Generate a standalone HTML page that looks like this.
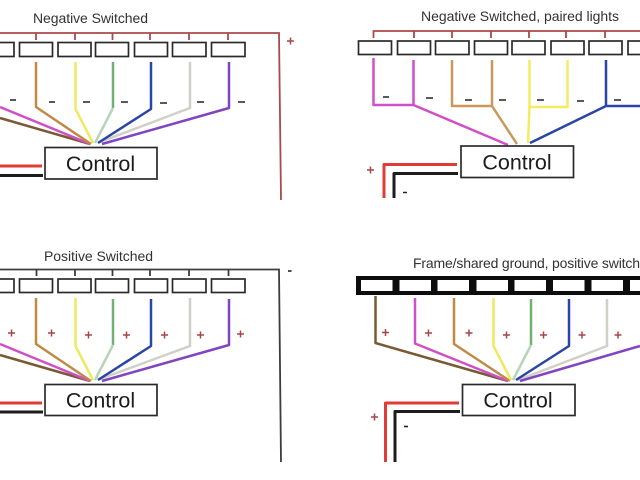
<!DOCTYPE html>
<html><head><meta charset="utf-8"><style>
html,body{margin:0;padding:0;background:#fff;width:640px;height:480px;overflow:hidden}
svg{display:block}
text{font-family:"Liberation Sans",sans-serif;fill:#333}
.w{fill:none;stroke-width:2.5;stroke-linejoin:round}
.b{fill:#fff;stroke:#2c2c2c;stroke-width:1.7}
.t{font-size:14px}
.c{font-size:21.5px;text-anchor:middle;fill:#1c1c1c}
.m{fill:none;stroke:#222;stroke-width:1.6}
.p{fill:none;stroke:#a8454a;stroke-width:1.5}
</style></head><body>
<svg width="640" height="480" viewBox="0 0 640 480" xmlns="http://www.w3.org/2000/svg">
<defs><filter id="s" x="0" y="0" width="100%" height="100%"><feGaussianBlur stdDeviation="0.35"/></filter></defs>
<rect width="640" height="480" fill="#fff"/>
<g filter="url(#s)">

<!-- Panel 1 -->
<text class="t" x="33" y="23" textLength="115">Negative Switched</text>
<path d="M0 33H279L281 200M36 33V40M75 33V40M112.500 33V40M150 33V40M189 33V40M228 33V40" fill="none" stroke="#a94a4e" stroke-width="1.8"/>
<path d="M287 41h7M290.500 37.500v7" class="p"/>
<g class="b">
<rect x="-20" y="42.500" width="34" height="14"/><rect x="19.500" y="42.500" width="33" height="14"/><rect x="58" y="42.500" width="33" height="14"/><rect x="95.500" y="42.500" width="33" height="14"/><rect x="134.500" y="42.500" width="33" height="14"/><rect x="172.500" y="42.500" width="33.500" height="14"/><rect x="211.500" y="42.500" width="33.500" height="14"/>
</g>
<g class="w">
<path d="M0 118L90 144" stroke="#7a5a34"/>
<path d="M0 107L90 144" stroke="#d050c8"/>
<path d="M36 62V107L91 144" stroke="#c08a45"/>
<path d="M75.500 62V109L93 143" stroke="#f0e860"/>
<path d="M113 62V108" stroke="#6fb070"/><path d="M113 108L95 143" stroke="#b5d5b8"/>
<path d="M190 62V108L100 142" stroke="#d0d0c8"/>
<path d="M151 62V109L98 143" stroke="#2a45a5"/>
<path d="M229 62V108L102 144" stroke="#8045c0"/>
<path d="M0 166H42" stroke="#e03a35" stroke-width="3"/>
<path d="M0 175.500H43" stroke="#1a1a1a" stroke-width="3"/>
</g>
<path d="M10 100h6M49 102h6M83 102h7M121 102h7M160 103h7M197 102h7M238 102h7" class="m"/>
<rect class="b" x="45" y="147.500" width="112" height="31.500"/>
<text class="c" x="100.500" y="171">Control</text>

<!-- Panel 2 -->
<text class="t" x="421" y="21" textLength="198">Negative Switched, paired lights</text>
<path d="M640 31H373.500V38M414 31V38M452 31V38M491 31V38M529 31V38M566 31V38M605 31V38" fill="none" stroke="#a94a4e" stroke-width="1.8"/>
<g class="b">
<rect x="358.500" y="41" width="33" height="13.500"/><rect x="397.500" y="41" width="33" height="13.500"/><rect x="435.500" y="41" width="33.500" height="13.500"/><rect x="474.500" y="41" width="33" height="13.500"/><rect x="512" y="41" width="33" height="13.500"/><rect x="551" y="41" width="33" height="13.500"/><rect x="589" y="41" width="33" height="13.500"/><rect x="628" y="41" width="33" height="13.500"/>
</g>
<g class="w">
<path d="M373.500 58V105H414M413.500 60V105L508 145" stroke="#d050c8"/>
<path d="M452 60V106H492M492 60V106L517 144" stroke="#c9985a"/>
<path d="M529.500 60V107L528 143M567.500 60V107H530" stroke="#f3ec60"/>
<path d="M606 60V106L530 143M606 106H640" stroke="#2a45a5"/>
<path d="M384 198V164.500H457" stroke="#e03a35" stroke-width="3"/>
<path d="M394 198V173.500H458" stroke="#1a1a1a" stroke-width="3"/>
</g>
<path d="M383 97h6M426 98h7M465 100h7M499 100h7M537 100h7M577 101h7M614 100h7M403 192.500h4" class="m"/>
<path d="M367 170h7M370.500 166.500v7" class="p"/>
<rect class="b" x="461" y="146" width="112.500" height="31.500"/>
<text class="c" x="517" y="169.500">Control</text>

<!-- Panel 3 -->
<text class="t" x="44" y="261" textLength="109">Positive Switched</text>
<path d="M0 269.500H279L281 462M36.500 269.500V276M75 269.500V276M112.500 269.500V276M150 269.500V276M189 269.500V276M228.500 269.500V276" fill="none" stroke="#3c3c3c" stroke-width="1.8"/>
<path d="M288 271h3.500" class="m"/>
<g class="b">
<rect x="-20" y="279" width="34" height="13.500"/><rect x="19.500" y="279" width="33" height="13.500"/><rect x="58" y="279" width="33" height="13.500"/><rect x="95.500" y="279" width="33" height="13.500"/><rect x="134.500" y="279" width="33" height="13.500"/><rect x="172.500" y="279" width="33.500" height="13.500"/><rect x="211.500" y="279" width="33.500" height="13.500"/>
</g>
<g class="w">
<path d="M0 355L90 381" stroke="#7a5a34"/>
<path d="M0 344L90 381" stroke="#d050c8"/>
<path d="M36 298V344L91 381" stroke="#c08a45"/>
<path d="M75.500 298V346L93 380" stroke="#f0e860"/>
<path d="M113 299V345" stroke="#6fb070"/><path d="M113 345L95 380" stroke="#b5d5b8"/>
<path d="M190 298V346L100 379" stroke="#d0d0c8"/>
<path d="M151 299V346L98 380" stroke="#2a45a5"/>
<path d="M229 299V345L102 381" stroke="#8045c0"/>
<path d="M0 403H42" stroke="#e03a35" stroke-width="3"/>
<path d="M0 412H43" stroke="#1a1a1a" stroke-width="3"/>
</g>
<path d="M8 333h7M11.500 329.500v7M48 333h7M51.500 329.500v7M85 335h7M88.500 331.500v7M123 335h7M126.500 331.500v7M161 335h7M164.500 331.500v7M197 335h7M200.500 331.500v7M237 334h7M240.500 330.500v7" class="p"/>
<rect class="b" x="45" y="384.500" width="112" height="31"/>
<text class="c" x="100.500" y="407.500">Control</text>

<!-- Panel 4 -->
<text class="t" x="413" y="268" textLength="227">Frame/shared ground, positive switch</text>
<rect x="356" y="276" width="284" height="19" fill="#111"/>
<g fill="#fff">
<rect x="361" y="280" width="31.500" height="11"/><rect x="399.500" y="280" width="31.500" height="11"/><rect x="437.500" y="280" width="31.500" height="11"/><rect x="476.500" y="280" width="31.500" height="11"/><rect x="514.500" y="280" width="31.500" height="11"/><rect x="553" y="280" width="31.500" height="11"/><rect x="591.500" y="280" width="31.500" height="11"/><rect x="630" y="280" width="31.500" height="11"/>
</g>
<g class="w">
<path d="M375.500 296V343L508 381" stroke="#7a5a34"/>
<path d="M415 298V343.500L508 381" stroke="#d050c8"/>
<path d="M454 298V344L510 381" stroke="#c08a45"/>
<path d="M493.500 298V346L511 380" stroke="#f0e860"/>
<path d="M531 299V345" stroke="#6fb070"/><path d="M531 345L513 380" stroke="#b5d5b8"/>
<path d="M607 299V346L518 380" stroke="#d0d0c8"/>
<path d="M569 299V346L516 380" stroke="#2a45a5"/>
<path d="M640 346L520 381" stroke="#8045c0"/>
<path d="M385.500 462V403H459" stroke="#e03a35" stroke-width="3"/>
<path d="M395 462V411.500H460" stroke="#1a1a1a" stroke-width="3"/>
</g>
<path d="M382 332.500h7M385.500 329v7M425 333h7M428.500 329.500v7M465.500 333h7M469 329.500v7M503 335h7M506.500 331.500v7M540 335h7M543.500 331.500v7M578.500 335h7M582 331.500v7M614.500 335h7M618 331.500v7M371 417h7M374.500 413.500v7" class="p"/>
<path d="M404 426.500h4" class="m"/>
<rect class="b" x="462.500" y="384.500" width="112.500" height="31"/>
<text class="c" x="518" y="407.500">Control</text>
</g>
</svg>
</body></html>
